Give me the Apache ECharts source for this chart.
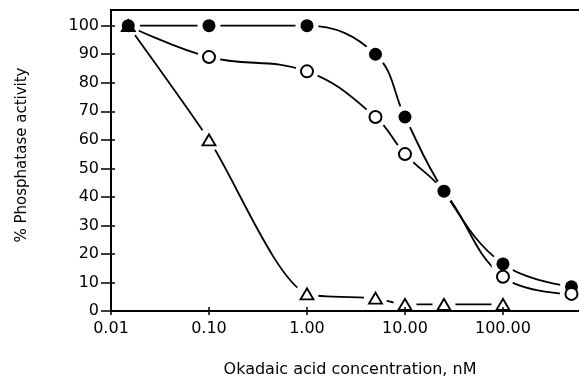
<!DOCTYPE html>
<html><head><meta charset="utf-8">
<script src="https://cdn.jsdelivr.net/npm/echarts@6/dist/echarts.min.js"></script>
<style>html,body{margin:0;padding:0;background:#fff;overflow:hidden}#c{width:579px;height:377px}</style>
</head><body><div id="c"></div>
<script>
// Okadaic acid concentration (nM)
const concentrations = [0.015, 0.1, 1, 5, 10, 25, 100, 500];
const filledValues   = [100, 100, 100, 90, 68, 42, 16.5, 8.5];
const openValues     = [100, 89, 84, 68, 55, 42, 12, 6];
const openMarked     = [false, true, true, true, true, false, true, true];
const triangleConc   = [0.015, 0.1, 1, 5, 10, 25, 100];
const triangleValues = [100, 60, 6, 4.5, 2.3, 2.3, 2.3];
const xTickValues = [0.01, 0.1, 1, 10, 100];
const xTickLabels = ['0.01', '0.10', '1.00', '10.00', '100.00'];
const yTickValues = [0, 10, 20, 30, 40, 50, 60, 70, 80, 90, 100];
const yTickLabels = ['0', '10', '20', '30', '40', '50', '60', '70', '80', '90', '100'];

const FONT = 'DejaVu Sans';
const pair = (xs, ys) => xs.map((x, i) => [x, ys[i]]);
const filledData = pair(concentrations, filledValues);
const openData = pair(concentrations, openValues);
const openMarks = openData.filter((d, i) => openMarked[i]);
const triData = pair(triangleConc, triangleValues);
const haloData = filledData.concat(openMarks).concat(triData);

function xLabel(v) {
  let best = 0, bd = Infinity;
  xTickValues.forEach((t, i) => { const d = Math.abs(Math.log10(v) - Math.log10(t)); if (d < bd) { bd = d; best = i; } });
  return bd < 1e-6 ? xTickLabels[best] : '';
}
function yLabel(v) {
  const i = yTickValues.indexOf(v);
  return i >= 0 ? yTickLabels[i] : '';
}

const chart = echarts.init(document.getElementById('c'), null, { renderer: 'canvas' });
const lineStyle = { color: '#000', width: 1.8 };
const xCommon = { type: 'log', logBase: 10, min: 0.01, max: 755, splitNumber: 5, gridIndex: 0, splitLine: { show: false }, minorTick: { show: false } };
const yCommon = { type: 'value', min: 0, max: 105.5, interval: 10, splitLine: { show: false } };

chart.setOption({
  animation: false,
  backgroundColor: '#fff',
  grid: { left: 111, width: 478, top: 10, height: 301, outerBoundsMode: 'none', containLabel: false, show: true, borderColor: '#000', borderWidth: 2, backgroundColor: 'transparent' },
  xAxis: [
    Object.assign({}, xCommon, {
      z: 10,
      name: 'Okadaic acid concentration, nM', nameLocation: 'middle', nameGap: 51,
      nameTextStyle: { fontFamily: FONT, fontSize: 16, color: '#000' },
      axisLine: { show: true, lineStyle: { color: '#000', width: 2 } },
      axisTick: { show: true, length: 4, inside: false, lineStyle: { color: '#000', width: 1.5 } },
      axisLabel: { show: true, margin: 10, showMaxLabel: false, fontFamily: FONT, fontSize: 16, color: '#000', formatter: xLabel }
    }),
    Object.assign({}, xCommon, {
      z: 10, position: 'bottom',
      axisLine: { show: false },
      axisTick: { show: true, length: 4, inside: true, lineStyle: { color: '#000', width: 1.5 } },
      axisLabel: { show: false }
    })
  ],
  yAxis: [
    Object.assign({}, yCommon, {
      z: 10,
      name: '% Phosphatase activity', nameLocation: 'middle', nameGap: 81, nameRotate: 90,
      nameTextStyle: { fontFamily: FONT, fontSize: 15, color: '#000', padding: [0, 0, 0, 11] },
      axisLine: { show: true, lineStyle: { color: '#000', width: 2 } },
      axisTick: { show: true, length: 10, inside: false, customValues: yTickValues, lineStyle: { color: '#000', width: 1.5 } },
      axisLabel: { show: true, margin: 12, customValues: yTickValues, fontFamily: FONT, fontSize: 16, color: '#000', formatter: yLabel }
    }),
    Object.assign({}, yCommon, {
      z: 10, position: 'left',
      axisLine: { show: false },
      axisTick: { show: true, length: 4, inside: true, customValues: yTickValues, lineStyle: { color: '#000', width: 1.5 } },
      axisLabel: { show: false }
    })
  ],
  series: [
    { type: 'line', name: 'filled curve', data: filledData, smooth: 0.4, symbol: 'none', lineStyle, z: 1, zlevel: 0 },
    { type: 'line', name: 'open curve', data: openData, smooth: 0.4, symbol: 'none', lineStyle, z: 1, zlevel: 0 },
    { type: 'line', name: 'triangle curve', data: triData, smooth: 0.25, symbol: 'none', lineStyle, z: 1, zlevel: 0 },
    { type: 'scatter', name: 'halo', data: haloData,
      symbol: 'circle', symbolSize: 23, itemStyle: { color: '#ffffff', opacity: 1 }, z: 3, zlevel: 0 },
    { type: 'scatter', name: 'triangles', data: triData, symbol: 'triangle', symbolSize: [13, 11],
      itemStyle: { color: '#fff', borderColor: '#000', borderWidth: 1.8, opacity: 1 }, z: 4 },
    { type: 'scatter', name: 'filled', data: filledData, symbol: 'circle', symbolSize: 13,
      itemStyle: { color: '#000', opacity: 1 }, z: 5 },
    { type: 'scatter', name: 'open', data: openMarks, symbol: 'circle', symbolSize: 12,
      itemStyle: { color: '#fff', borderColor: '#000', borderWidth: 2, opacity: 1 }, z: 6 }
  ]
});
</script>
</body></html>
